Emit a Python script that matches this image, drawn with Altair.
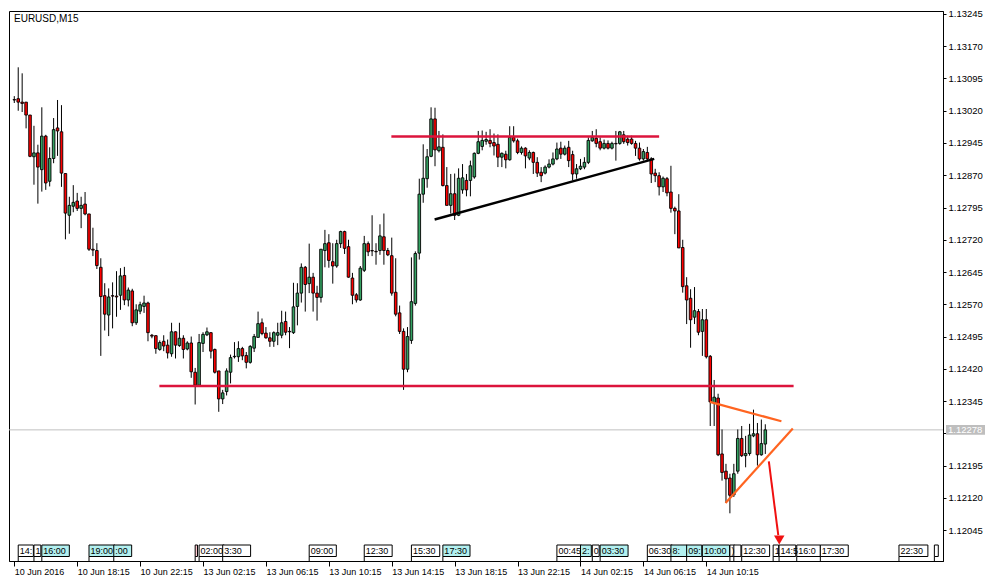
import altair as alt
import pandas as pd

title_text = "EURUSD,M15"

opens = [
    1.13046, 1.13048, 1.13040, 1.13040, 1.13010, 1.12913, 1.12922, 1.12883, 1.12961, 1.12856,
    1.12909, 1.12980, 1.12971, 1.12874, 1.12777, 1.12798, 1.12810, 1.12793, 1.12803, 1.12780,
    1.12698, 1.12695, 1.12656, 1.12590, 1.12545, 1.12590, 1.12589, 1.12591, 1.12637, 1.12580,
    1.12601, 1.12527, 1.12554, 1.12565, 1.12573, 1.12498, 1.12497, 1.12465, 1.12484, 1.12475,
    1.12455, 1.12506, 1.12474, 1.12491, 1.12466, 1.12480, 1.12412, 1.12382, 1.12479, 1.12499,
    1.12504, 1.12465, 1.12415, 1.12350, 1.12367, 1.12412, 1.12448, 1.12448, 1.12467, 1.12451,
    1.12435, 1.12468, 1.12493, 1.12527, 1.12503, 1.12492, 1.12484, 1.12498, 1.12498, 1.12530,
    1.12507, 1.12504, 1.12565, 1.12596, 1.12656, 1.12618, 1.12633, 1.12596, 1.12586, 1.12695,
    1.12713, 1.12669, 1.12659, 1.12711, 1.12739, 1.12704, 1.12631, 1.12592, 1.12580, 1.12649,
    1.12711, 1.12695, 1.12693, 1.12695, 1.12727, 1.12695, 1.12683, 1.12598, 1.12550, 1.12507,
    1.12419, 1.12486, 1.12572, 1.12689, 1.12826, 1.12862, 1.12914, 1.13001, 1.12927, 1.12935,
    1.12846, 1.12800, 1.12827, 1.12777, 1.12836, 1.12858, 1.12858, 1.12866, 1.12921, 1.12937,
    1.12949, 1.12951, 1.12946, 1.12942, 1.12912, 1.12919, 1.12906, 1.12958, 1.12950, 1.12923,
    1.12933, 1.12910, 1.12923, 1.12900, 1.12877, 1.12875, 1.12889, 1.12896, 1.12908, 1.12933,
    1.12919, 1.12935, 1.12918, 1.12873, 1.12885, 1.12889, 1.12900, 1.12950, 1.12956, 1.12948,
    1.12933, 1.12944, 1.12933, 1.12944, 1.12944, 1.12964, 1.12954, 1.12954, 1.12944, 1.12933,
    1.12908, 1.12923, 1.12908, 1.12875, 1.12869, 1.12843, 1.12862, 1.12831, 1.12793, 1.12787,
    1.12702, 1.12613, 1.12584, 1.12540, 1.12553, 1.12507, 1.12534, 1.12449, 1.12340, 1.12352,
    1.12222, 1.12182, 1.12166, 1.12127, 1.12182, 1.12258, 1.12218, 1.12223, 1.12264, 1.12269,
    1.12220, 1.12245,
]

highs = [
    1.13054, 1.13121, 1.13107, 1.13040, 1.13010, 1.12985, 1.12941, 1.13028, 1.12964, 1.12935,
    1.13003, 1.13045, 1.13033, 1.12874, 1.12820, 1.12847, 1.12829, 1.12820, 1.12831, 1.12780,
    1.12748, 1.12712, 1.12677, 1.12619, 1.12607, 1.12621, 1.12647, 1.12654, 1.12657, 1.12609,
    1.12606, 1.12570, 1.12576, 1.12590, 1.12576, 1.12501, 1.12498, 1.12486, 1.12498, 1.12488,
    1.12527, 1.12507, 1.12527, 1.12498, 1.12484, 1.12495, 1.12422, 1.12501, 1.12505, 1.12516,
    1.12505, 1.12467, 1.12415, 1.12371, 1.12421, 1.12453, 1.12482, 1.12484, 1.12471, 1.12459,
    1.12475, 1.12501, 1.12553, 1.12537, 1.12517, 1.12505, 1.12507, 1.12527, 1.12555, 1.12553,
    1.12517, 1.12620, 1.12619, 1.12665, 1.12659, 1.12711, 1.12643, 1.12613, 1.12698, 1.12743,
    1.12733, 1.12712, 1.12720, 1.12741, 1.12741, 1.12720, 1.12643, 1.12596, 1.12659, 1.12729,
    1.12716, 1.12777, 1.12712, 1.12756, 1.12781, 1.12701, 1.12725, 1.12677, 1.12567, 1.12514,
    1.12517, 1.12679, 1.12693, 1.12862, 1.12942, 1.12931, 1.13028, 1.13027, 1.12973, 1.12965,
    1.12889, 1.12873, 1.12874, 1.12886, 1.12896, 1.12873, 1.12904, 1.12923, 1.12973, 1.12974,
    1.12971, 1.12977, 1.12967, 1.12965, 1.12923, 1.12927, 1.12984, 1.12984, 1.12955, 1.12937,
    1.12935, 1.12928, 1.12925, 1.12912, 1.12889, 1.12893, 1.12907, 1.12923, 1.12946, 1.12948,
    1.12939, 1.12950, 1.12927, 1.12896, 1.12908, 1.12912, 1.12958, 1.12973, 1.12977, 1.12958,
    1.12953, 1.12951, 1.12948, 1.12973, 1.12973, 1.12973, 1.12962, 1.12962, 1.12950, 1.12946,
    1.12931, 1.12936, 1.12912, 1.12885, 1.12877, 1.12867, 1.12866, 1.12892, 1.12797, 1.12826,
    1.12720, 1.12633, 1.12605, 1.12610, 1.12559, 1.12559, 1.12559, 1.12452, 1.12394, 1.12362,
    1.12279, 1.12199, 1.12176, 1.12199, 1.12279, 1.12287, 1.12264, 1.12292, 1.12325, 1.12294,
    1.12302, 1.12291,
]

lows = [
    1.13038, 1.13020, 1.13017, 1.12979, 1.12912, 1.12848, 1.12804, 1.12832, 1.12836, 1.12844,
    1.12898, 1.12915, 1.12843, 1.12721, 1.12734, 1.12784, 1.12787, 1.12747, 1.12777, 1.12694,
    1.12682, 1.12652, 1.12450, 1.12509, 1.12496, 1.12514, 1.12541, 1.12557, 1.12568, 1.12565,
    1.12519, 1.12522, 1.12547, 1.12550, 1.12484, 1.12491, 1.12455, 1.12462, 1.12461, 1.12444,
    1.12448, 1.12444, 1.12471, 1.12444, 1.12463, 1.12399, 1.12337, 1.12379, 1.12459, 1.12496,
    1.12444, 1.12409, 1.12320, 1.12338, 1.12358, 1.12386, 1.12444, 1.12436, 1.12440, 1.12421,
    1.12432, 1.12459, 1.12493, 1.12498, 1.12490, 1.12471, 1.12471, 1.12475, 1.12491, 1.12498,
    1.12468, 1.12501, 1.12521, 1.12574, 1.12553, 1.12596, 1.12553, 1.12532, 1.12574, 1.12656,
    1.12655, 1.12618, 1.12655, 1.12701, 1.12687, 1.12632, 1.12570, 1.12574, 1.12578, 1.12645,
    1.12682, 1.12682, 1.12662, 1.12685, 1.12662, 1.12682, 1.12590, 1.12542, 1.12501, 1.12371,
    1.12412, 1.12478, 1.12567, 1.12674, 1.12806, 1.12841, 1.12912, 1.12891, 1.12923, 1.12844,
    1.12800, 1.12781, 1.12766, 1.12775, 1.12827, 1.12821, 1.12821, 1.12862, 1.12919, 1.12928,
    1.12941, 1.12935, 1.12916, 1.12889, 1.12889, 1.12886, 1.12904, 1.12946, 1.12919, 1.12918,
    1.12886, 1.12905, 1.12873, 1.12866, 1.12854, 1.12872, 1.12886, 1.12893, 1.12905, 1.12908,
    1.12916, 1.12889, 1.12858, 1.12862, 1.12882, 1.12884, 1.12896, 1.12948, 1.12935, 1.12928,
    1.12930, 1.12930, 1.12930, 1.12904, 1.12941, 1.12943, 1.12939, 1.12941, 1.12915, 1.12904,
    1.12904, 1.12904, 1.12852, 1.12854, 1.12823, 1.12831, 1.12821, 1.12783, 1.12733, 1.12701,
    1.12597, 1.12524, 1.12469, 1.12524, 1.12498, 1.12450, 1.12444, 1.12287, 1.12287, 1.12217,
    1.12160, 1.12108, 1.12084, 1.12122, 1.12176, 1.12215, 1.12191, 1.12218, 1.12261, 1.12195,
    1.12218, 1.12222,
]

closes = [
    1.13045, 1.13040, 1.13037, 1.13010, 1.12914, 1.12922, 1.12889, 1.12961, 1.12852, 1.12909,
    1.12976, 1.12973, 1.12875, 1.12782, 1.12800, 1.12807, 1.12793, 1.12800, 1.12780, 1.12698,
    1.12696, 1.12660, 1.12588, 1.12547, 1.12587, 1.12589, 1.12587, 1.12636, 1.12580, 1.12603,
    1.12527, 1.12557, 1.12569, 1.12573, 1.12504, 1.12496, 1.12467, 1.12481, 1.12473, 1.12457,
    1.12506, 1.12475, 1.12491, 1.12465, 1.12480, 1.12413, 1.12382, 1.12481, 1.12500, 1.12506,
    1.12461, 1.12412, 1.12350, 1.12364, 1.12415, 1.12446, 1.12449, 1.12467, 1.12450, 1.12435,
    1.12472, 1.12495, 1.12525, 1.12502, 1.12492, 1.12484, 1.12504, 1.12504, 1.12527, 1.12505,
    1.12506, 1.12564, 1.12596, 1.12656, 1.12616, 1.12633, 1.12596, 1.12586, 1.12698, 1.12711,
    1.12672, 1.12659, 1.12711, 1.12739, 1.12700, 1.12633, 1.12591, 1.12580, 1.12654, 1.12711,
    1.12692, 1.12694, 1.12692, 1.12729, 1.12695, 1.12685, 1.12596, 1.12547, 1.12507, 1.12419,
    1.12495, 1.12576, 1.12688, 1.12826, 1.12863, 1.12913, 1.13001, 1.12929, 1.12936, 1.12846,
    1.12800, 1.12827, 1.12777, 1.12863, 1.12864, 1.12836, 1.12892, 1.12921, 1.12948, 1.12951,
    1.12953, 1.12944, 1.12938, 1.12912, 1.12921, 1.12906, 1.12958, 1.12950, 1.12923, 1.12933,
    1.12915, 1.12923, 1.12900, 1.12875, 1.12869, 1.12889, 1.12896, 1.12908, 1.12931, 1.12919,
    1.12933, 1.12904, 1.12873, 1.12885, 1.12891, 1.12900, 1.12951, 1.12958, 1.12944, 1.12933,
    1.12944, 1.12933, 1.12944, 1.12943, 1.12971, 1.12948, 1.12946, 1.12944, 1.12933, 1.12908,
    1.12925, 1.12908, 1.12873, 1.12869, 1.12843, 1.12863, 1.12829, 1.12793, 1.12787, 1.12701,
    1.12611, 1.12580, 1.12534, 1.12555, 1.12505, 1.12534, 1.12448, 1.12343, 1.12354, 1.12220,
    1.12179, 1.12164, 1.12126, 1.12176, 1.12258, 1.12218, 1.12223, 1.12266, 1.12269, 1.12220,
    1.12246, 1.12278,
]

# time axis (bar index -> label)
x_tick_pos = [0, 16, 32, 48, 64, 80, 96, 112, 128, 144, 160, 176]
x_tick_labels = ["10 Jun 2016", "10 Jun 18:15", "10 Jun 22:15", "13 Jun 02:15",
                 "13 Jun 06:15", "13 Jun 10:15", "13 Jun 14:15", "13 Jun 18:15",
                 "13 Jun 22:15", "14 Jun 02:15", "14 Jun 06:15", "14 Jun 10:15"]

y_ticks = [1.13245, 1.13170, 1.13095, 1.13020, 1.12945, 1.12870, 1.12795, 1.12720,
           1.12645, 1.12570, 1.12495, 1.12420, 1.12345, 1.12270, 1.12195, 1.12120, 1.12045]
# the 1.12270 label sits under the current-price box in the reference
hidden_tick = 1.12270

current_price = 1.12278
current_label = "1.12278"

# drawn objects: (x_from, y_from, x_to, y_to)
line_x1 = [36.9, 95.9, 106.9, 176.9, 180.9, 191.9]
line_y1 = [1.12380, 1.12960, 1.12767, 1.12343, 1.12108, 1.12205]
line_x2 = [198.2, 164.0, 162.75, 195.1, 198.0, 194.3]
line_y2 = [1.12380, 1.12960, 1.12908, 1.12298, 1.12281, 1.12033]
line_color = ["#dc143c", "#dc143c", "#000000", "#ff6420", "#ff6420", "#f01010"]
line_width = [2.5, 2.5, 2.5, 2.2, 2.2, 2.0]

arrow_x = [194.55]
arrow_y = [1.12022]

# vertical-line labels at the bottom
box_start = [1, 5, 7, 19, 25.3, 46, 47, 53, 75, 89, 101, 109, 138, 144, 147, 149, 161,
             167, 171, 175, 182, 183, 185, 193, 194.5, 199, 205, 225, 234]
box_end = [4.85, 6.75, 14, 25.6, 29.85, 46.6, 53.4, 60.1, 81.9, 96.1, 108.2, 115.9, 144.25,
           146.75, 148.75, 156.1, 167.35, 171.1, 174.85, 181.9, 183.2, 184.8, 192.1, 194.4,
           198.75, 205, 212.1, 232.35, 235]
box_text = ["14:", "1", "16:00", "19:00", ":00", "", "02:00", "3:30", "09:00", "12:30",
            "15:30", "17:30", "00:45", "2:", "0", "03:30", "06:30", "8:", "09:", "10:00",
            ")", "", "12:30", "1", "14:5", "16:0", "17:30", "22:30", ""]
CY = "#b2f0ef"
WH = "#ffffff"
PK = "#ffc8d0"
box_fill = [WH, WH, CY, CY, CY, PK, WH, WH, WH, WH, WH, CY, WH, CY, WH, CY, WH,
            CY, CY, CY, WH, WH, WH, WH, WH, WH, WH, WH, WH]

GREEN = "#34a262"
RED = "#ff0000"
FONT = "Liberation Sans"

df = pd.DataFrame({"i": list(range(len(opens))), "open": opens, "high": highs,
                   "low": lows, "close": closes})
df["hi"] = df[["high", "open", "close"]].max(axis=1)
df["lo"] = df[["low", "open", "close"]].min(axis=1)

lines_df = pd.DataFrame({"x1": line_x1, "y1": line_y1, "x2": line_x2, "y2": line_y2,
                         "c": line_color, "w": line_width})
arrow_df = pd.DataFrame({"x": arrow_x, "y": arrow_y})
boxes_df = pd.DataFrame({"s": box_start, "e": box_end, "t": box_text, "f": box_fill})
price_df = pd.DataFrame({"p": [current_price], "hi": [current_price + 0.000112],
                         "lo": [current_price - 0.000112], "t": [current_label]})
title_df = pd.DataFrame({"t": [title_text]})

xs = alt.Scale(domain=[-0.075, 234.925], nice=False, zero=False)
ys = alt.Scale(domain=[1.119731, 1.132519], nice=False, zero=False)

x_label_expr = "[" + ",".join("'" + s + "'" for s in x_tick_labels) + "][round(datum.value/16)]"
y_label_expr = ("abs(datum.value - %.5f) < 0.00001 ? '' : format(datum.value, '.5f')"
                % hidden_tick)

x_axis = alt.Axis(values=x_tick_pos, labelExpr=x_label_expr, orient="bottom", title=None,
                  grid=False, tickSize=5, tickColor="black", domainColor="black",
                  labelAlign="left", labelPadding=1, labelFont=FONT, labelFontSize=9,
                  labelColor="black", labelOverlap=False, labelBound=False, labelFlush=False)
y_axis = alt.Axis(values=y_ticks, labelExpr=y_label_expr, orient="right", title=None,
                  grid=False, tickSize=3, tickColor="black", domainColor="black",
                  labelPadding=2, labelFont=FONT, labelFontSize=9.5, labelColor="black",
                  labelOverlap=False, labelBound=False, labelFlush=False)


def X(field):
    return alt.X(field, type="quantitative", scale=xs, axis=x_axis)


def Y(field):
    return alt.Y(field, type="quantitative", scale=ys, axis=y_axis)


price_line = alt.Chart(price_df).mark_rule(color="#c0c0c0", strokeWidth=1).encode(
    y=Y("p")
)

wicks = alt.Chart(df).mark_rule(color="black", strokeWidth=1, clip=True).encode(
    x=X("i"), y=Y("hi"), y2="lo:Q",
)

bodies = alt.Chart(df).mark_bar(size=2.6, stroke="black", strokeWidth=0.9, clip=True).encode(
    x=X("i"), y=Y("open"), y2="close:Q",
    fill=alt.condition("datum.close >= datum.open", alt.value(GREEN), alt.value(RED)),
)

lines = alt.Chart(lines_df).mark_rule(clip=True).encode(
    x=X("x1"), x2="x2:Q", y=Y("y1"), y2="y2:Q",
    color=alt.Color("c:N", scale=None),
    strokeWidth=alt.StrokeWidth("w:Q", scale=None),
)

arrow = alt.Chart(arrow_df).mark_point(shape="triangle-down", filled=True, size=110,
                                       color="#f01010", opacity=1).encode(
    x=X("x"), y=Y("y"),
)

box_rects = alt.Chart(boxes_df).mark_rect(stroke="black", strokeWidth=1, clip=True).encode(
    x=X("s"), x2="e:Q",
    y=alt.value(534), y2=alt.value(545.5),
    fill=alt.Fill("f:N", scale=None),
)
box_stems = alt.Chart(boxes_df).mark_rule(color="black", strokeWidth=1, clip=True).encode(
    x=X("s"), y=alt.value(545.5), y2=alt.value(550),
)
box_texts = alt.Chart(boxes_df).mark_text(align="left", baseline="middle", dx=1.5,
                                          font=FONT, fontSize=9, color="black",
                                          clip=True).encode(
    x=X("s"), y=alt.value(540), text="t:N",
)

price_box = alt.Chart(price_df).mark_rect(color="#bebebe").encode(
    x=alt.value(937), x2=alt.value(976),
    y=Y("hi"), y2="lo:Q",
)
price_text = alt.Chart(price_df).mark_text(align="left", baseline="middle", font=FONT,
                                           fontSize=9.5, color="white").encode(
    x=alt.value(939), y=Y("p"), text="t:N",
)

title = alt.Chart(title_df).mark_text(align="left", baseline="middle", font=FONT,
                                      fontSize=10, color="black").encode(
    x=alt.value(5), y=alt.value(7.5), text="t:N"
)

chart = alt.layer(
    price_line, wicks, bodies, lines, arrow, box_rects, box_stems, box_texts,
    price_box, price_text, title
).properties(
    width=934, height=550, padding=0, background="white"
).configure_view(stroke="black", strokeWidth=1)

chart.save("out.html", embed_options={"renderer": "svg", "actions": False})
